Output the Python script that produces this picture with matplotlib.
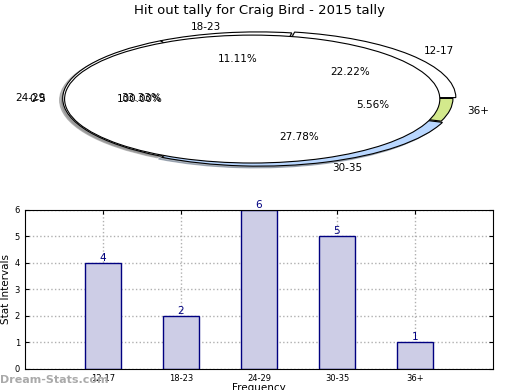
import matplotlib
matplotlib.use("Agg")
import matplotlib.pyplot as plt

labels = ["12-17", "18-23", "24-29", "30-35", "36+"]
counts = [4, 2, 6, 5, 1]
pie_colors = ["white", "white", "white", "#b9d7ff", "#d3e98c"]
# second (overlaid) pie from the original page: one full white wedge
over_labels = ["0-5"]
over_counts = [1]

fig = plt.figure(figsize=(5.2, 3.9), dpi=100)
fig.suptitle("Hit out tally for Craig Bird - 2015 tally", fontsize=9.5, y=0.99)

shadow = {"ox": -0.012, "oy": -0.02, "shade": 0.5}
ax1 = fig.add_axes([0.034, 0.541, 0.902, 0.41])
ax1.pie(counts, labels=labels, colors=pie_colors, autopct="%.2f%%",
        explode=[0.02, 0, 0, 0.02, 0], shadow=shadow, startangle=0,
        center=(0.03, 0.01), radius=1.04, labeldistance=1.09,
        wedgeprops={"edgecolor": "black", "linewidth": 0.8},
        textprops={"fontsize": 7.5})
ax1.pie(over_counts, labels=over_labels, colors=["white"], autopct="%.2f%%",
        shadow=shadow, startangle=0,
        wedgeprops={"edgecolor": "black", "linewidth": 0.8},
        textprops={"fontsize": 7.5})
ax1.set_aspect("auto")
ax1.set_xlim(-1.25, 1.25)
ax1.set_ylim(-1.25, 1.25)

ax2 = fig.add_axes([0.048, 0.054, 0.9, 0.408])
x = range(1, len(counts) + 1)
ax2.bar(x, counts, width=0.46, color="#cdcde6", edgecolor="#000080",
        linewidth=1, zorder=2)
for xi, c in zip(x, counts):
    ax2.text(xi, c, str(c), ha="center", va="bottom", color="#000080", fontsize=7.5)
ax2.set_xlim(0, 6)
ax2.set_ylim(0, 6)
ax2.set_xticks(list(x))
ax2.set_xticklabels(labels)
ax2.set_yticks(range(7))
ax2.tick_params(labelsize=6, direction="in", top=True, right=True, length=3)
ax2.grid(True, linestyle=":", color="#b0b0b0", linewidth=1)
ax2.set_axisbelow(True)
ax2.set_ylabel("Stat Intervals", fontsize=7.5, labelpad=3)
ax2.set_xlabel("Frequency", fontsize=7.5, labelpad=0)

fig.text(0.0, 0.018, "Dream-Stats.com", fontsize=8, color="#aaaaaa",
         fontweight="bold")

fig.savefig("out.png", dpi=100)
